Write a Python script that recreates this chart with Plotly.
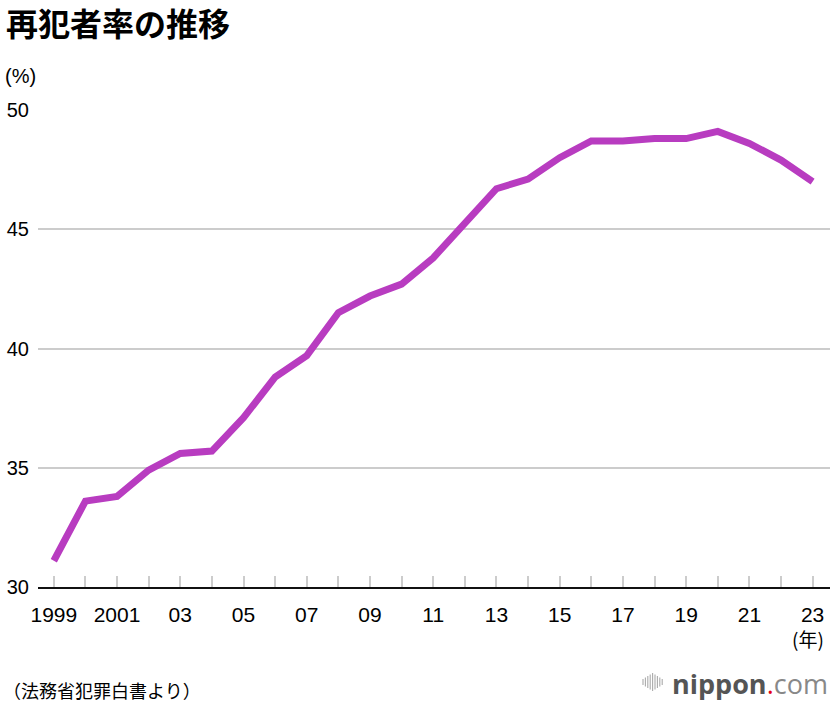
import plotly.graph_objects as go

years = list(range(1999, 2024))
rate = [31.1, 33.6, 33.8, 34.9, 35.6, 35.7, 37.1, 38.8, 39.7, 41.5, 42.2, 42.7,
        43.8, 45.3, 46.7, 47.1, 48.0, 48.7, 48.7, 48.8, 48.8, 49.1, 48.6, 47.9, 47.0]
x_tick_vals = list(range(1999, 2024, 2))
x_tick_text = ["1999", "2001", "03", "05", "07", "09", "11", "13", "15", "17", "19", "21", "23"]
y_tick_vals = [30, 35, 40, 45, 50]

W, H = 832, 702
L, R, T, B = 38, 2, 110, 115
PW, PH = W - L - R, H - T - B

def px(x):
    return (x - L) / PW

def py(y):
    return (H - B - y) / PH

NUM = "Liberation Sans, Noto Sans CJK JP, sans-serif"
JP = "Noto Sans CJK JP, sans-serif"

fig = go.Figure()
fig.add_trace(go.Scatter(
    x=years, y=rate, mode="lines",
    line=dict(color="#b83cc0", width=7),
    cliponaxis=False, hoverinfo="skip",
))

annotations = [
    dict(text="<b>再犯者率の推移</b>", x=px(4), y=py(22), xanchor="left", yanchor="middle",
         font=dict(family=JP, size=32, color="#000")),
    dict(text="(%)", x=px(3), y=py(76), xanchor="left", yanchor="middle",
         font=dict(family=NUM, size=20, color="#000")),
    dict(text="(年)", x=px(826), y=py(638), xanchor="right", yanchor="middle",
         font=dict(family=JP, size=19, color="#000")),
    dict(text="（法務省犯罪白書より）", x=px(1), y=py(690), xanchor="left", yanchor="middle",
         font=dict(family=JP, size=18, color="#000")),
    dict(text="<b>nippon</b><span style='color:#e60012'>.</span><span style='color:#888'>com</span>",
         x=px(830), y=py(683), xanchor="right", yanchor="middle",
         font=dict(family="Open Sans, sans-serif", size=27, color="#555")),
]
for a in annotations:
    a.setdefault("xref", "paper")
    a["yref"] = "paper"
    a["showarrow"] = False

# decorative logo bars
shapes = []
bar_h = [6, 9, 12, 15, 18, 15, 12, 9, 6]
for i, h in enumerate(bar_h):
    xx = 643 + i * 2.4
    shapes.append(dict(type="line", xref="paper", yref="paper",
                       x0=px(xx), x1=px(xx), y0=py(682 - h / 2), y1=py(682 + h / 2),
                       line=dict(color="#aaa", width=1.1)))

fig.update_layout(
    width=W, height=H,
    margin=dict(l=L, r=R, t=T, b=B),
    paper_bgcolor="white", plot_bgcolor="white",
    showlegend=False,
    annotations=annotations,
    shapes=shapes,
    xaxis=dict(
        range=[1998.5, 2023.55],
        tickmode="array", tickvals=x_tick_vals, ticktext=x_tick_text,
        ticks="inside", ticklen=11, tickwidth=1.5, tickcolor="#cccccc",
        minor=dict(dtick=1, tick0=1999, ticks="inside", ticklen=11, tickwidth=1.5, tickcolor="#cccccc", showgrid=False),
        showgrid=False, zeroline=False,
        showline=True, linecolor="#111", linewidth=2,
        tickfont=dict(family=NUM, size=21, color="#000"),
        ticklabelstandoff=8,
        fixedrange=True,
    ),
    yaxis=dict(
        range=[30, 50],
        tickmode="array", tickvals=y_tick_vals,
        showgrid=True, gridcolor="#cccccc", gridwidth=1.5,
        zeroline=False, showline=False, ticks="",
        tickfont=dict(family=NUM, size=20, color="#000"),
        ticklabelstandoff=8,
        fixedrange=True,
    ),
)

fig.write_html("out.html")
